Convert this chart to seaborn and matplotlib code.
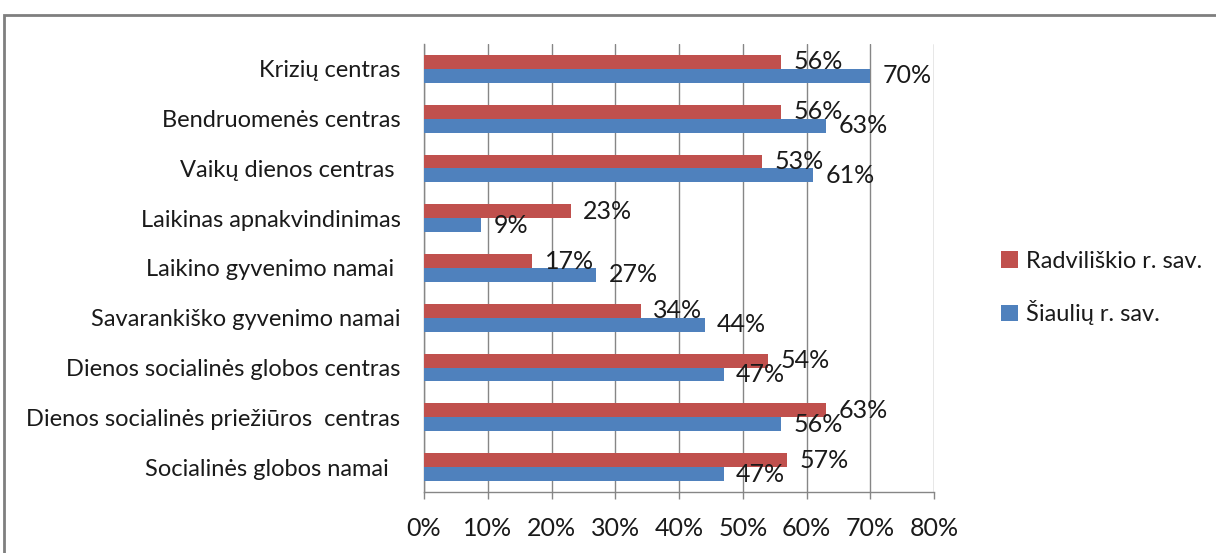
import matplotlib
matplotlib.use("Agg")
import matplotlib.pyplot as plt
import seaborn as sns
import pandas as pd
from matplotlib.patches import Rectangle
from matplotlib.ticker import FuncFormatter, FixedLocator

categories = [
    "Krizių centras",
    "Bendruomenės centras",
    "Vaikų dienos centras ",
    "Laikinas apnakvindinimas",
    "Laikino gyvenimo namai ",
    "Savarankiško gyvenimo namai",
    "Dienos socialinės globos centras",
    "Dienos socialinės priežiūros  centras",
    "Socialinės globos namai  ",
]
series_names = ["Radviliškio r. sav.", "Šiaulių r. sav."]
radviliskio = [56, 56, 53, 23, 17, 34, 54, 63, 57]
siauliu = [70, 63, 61, 9, 27, 44, 47, 56, 47]
x_ticks = [0, 10, 20, 30, 40, 50, 60, 70, 80]
colors = ["#C0504D", "#4F81BD"]

df = pd.DataFrame({
    "cat": categories * 2,
    "val": radviliskio + siauliu,
    "series": [series_names[0]] * len(categories) + [series_names[1]] * len(categories),
})

sns.set_theme(style="white")
plt.rcParams["font.family"] = ["Lato", "DejaVu Sans"]
grid_c = "#868686"
text_c = "#1a1a1a"

fig = plt.figure(figsize=(12.16, 5.53), dpi=100)
ax = fig.add_axes([424 / 1216, 1 - 492 / 553, (934 - 424) / 1216, (492 - 44) / 553])

sns.barplot(data=df, y="cat", x="val", hue="series", hue_order=series_names,
            palette=colors, orient="h", width=0.56, ax=ax, saturation=1,
            edgecolor="none", linewidth=0, zorder=3)

for cont, vals in zip(ax.containers, [radviliskio, siauliu]):
    ax.bar_label(cont, labels=[f"{v}%" for v in vals], padding=9,
                 fontsize=18, color=text_c, zorder=4)

ax.set_xlim(0, 80)
ax.set_ylim(len(categories) - 0.5, -0.5)
ax.xaxis.set_major_locator(FixedLocator(x_ticks))
ax.xaxis.set_major_formatter(FuncFormatter(lambda v, p: f"{v:.0f}%"))
ax.set_xlabel("")
ax.set_ylabel("")
ax.grid(axis="x", color=grid_c, linewidth=1, zorder=0)
ax.grid(axis="y", visible=False)
for s in ["top", "right"]:
    ax.spines[s].set_visible(False)
for s in ["left", "bottom"]:
    ax.spines[s].set_color(grid_c)
    ax.spines[s].set_linewidth(1)

ax.tick_params(axis="y", which="major", length=0, pad=17, labelsize=17, labelcolor=text_c)
ax.set_yticks(range(len(categories)), categories)
ax.yaxis.set_minor_locator(FixedLocator([i - 0.5 for i in range(len(categories) + 1)]))
ax.tick_params(axis="y", which="minor", length=5, color=grid_c, width=1, direction="out")
ax.tick_params(axis="x", which="major", length=5, color=grid_c, width=1, pad=13,
               labelsize=18, labelcolor=text_c, direction="out", bottom=True)

leg = ax.legend(loc="center left", bbox_to_anchor=(980 / 1216, 1 - 288 / 553),
                bbox_transform=fig.transFigure, frameon=False, fontsize=17,
                handlelength=0.7, handleheight=0.7, handletextpad=0.35,
                labelspacing=1.2, labelcolor=text_c)

# outer chart frame: only top and left edges visible (others run off the image)
fig.patches.append(Rectangle((4 / 1216, -0.1), 1.2, 1.1 - 15 / 553,
                             transform=fig.transFigure, fill=False,
                             edgecolor="#7f7f7f", linewidth=2))

fig.savefig("out.png", dpi=100)
